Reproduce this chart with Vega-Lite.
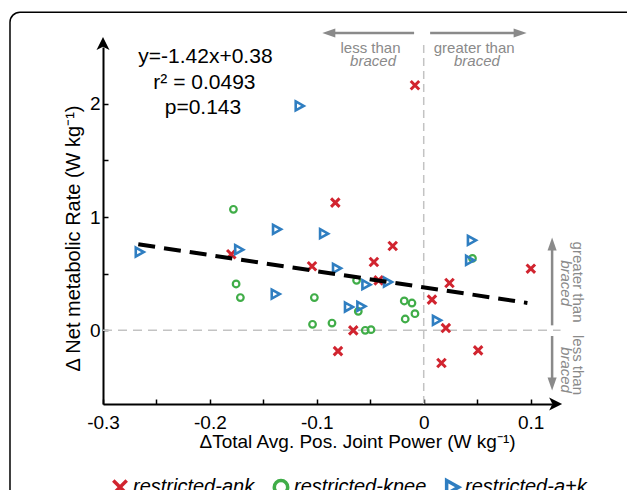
{
  "$schema": "https://vega.github.io/schema/vega-lite/v6.json",
  "width": 449,
  "height": 357,
  "autosize": {"type": "none"},
  "padding": {"left": 103, "top": 47, "right": 75, "bottom": 86},
  "background": "white",
  "config": {"view": {"stroke": null}, "font": "Liberation Sans"},
  "resolve": {"scale": {"shape": "independent", "color": "independent"}},
  "datasets": {
    "frame": [{"x": -0.387, "x2": 0.6, "y": 2.807, "y2": -3}],
    "vzero": [{"x": 0, "y": -0.65, "y2": 2.56}],
    "hzero": [{"x": -0.3, "x2": 0.128, "y": 0}],
    "harrows": [
      {"x": -0.086, "x2": -0.009, "y": 2.624},
      {"x": 0.006, "x2": 0.087, "y": 2.624}
    ],
    "varrows": [
      {"x": 0.1201, "y": 0.044, "y2": 0.75},
      {"x": 0.1201, "y": -0.05, "y2": -0.465}
    ],
    "heads": [
      {"x": -0.0888, "y": 2.624, "dir": "left"},
      {"x": 0.0902, "y": 2.624, "dir": "right"},
      {"x": 0.1201, "y": 0.762, "dir": "up"},
      {"x": 0.1201, "y": -0.474, "dir": "down"}
    ],
    "axisheads": [
      {"x": 0.1234, "y": -0.65, "dir": "right"},
      {"x": -0.3, "y": 2.531, "dir": "up"}
    ],
    "fit": [{"x": -0.267, "y": 0.759}, {"x": 0.097, "y": 0.242}],
    "stats": [
      {"x": -0.2042, "y": 2.415, "text": "y=-1.42x+0.38"},
      {"x": -0.2051, "y": 2.183, "text": "r² = 0.0493"},
      {"x": -0.2065, "y": 1.962, "text": "p=0.143"}
    ],
    "graynormal": [
      {"x": -0.0498, "y": 2.489, "text": "less than"},
      {"x": 0.0472, "y": 2.489, "text": "greater than"}
    ],
    "grayitalic": [
      {"x": -0.0474, "y": 2.38, "text": "braced"},
      {"x": 0.0498, "y": 2.38, "text": "braced"}
    ],
    "rotnormal": [
      {"x": 0.1444, "y": 0.426, "text": "greater than"},
      {"x": 0.1444, "y": -0.306, "text": "less than"}
    ],
    "rotitalic": [
      {"x": 0.1332, "y": 0.417, "text": "braced"},
      {"x": 0.1332, "y": -0.35, "text": "braced"}
    ],
    "points": [
      {"group": "restricted-ank", "x": -0.180, "y": 0.671},
      {"group": "restricted-ank", "x": -0.1045, "y": 0.565},
      {"group": "restricted-ank", "x": -0.0827, "y": 1.127},
      {"group": "restricted-ank", "x": -0.029, "y": 0.744},
      {"group": "restricted-ank", "x": -0.0466, "y": 0.603},
      {"group": "restricted-ank", "x": 0.1002, "y": 0.544},
      {"group": "restricted-ank", "x": -0.0422, "y": 0.441},
      {"group": "restricted-ank", "x": 0.0241, "y": 0.418},
      {"group": "restricted-ank", "x": 0.0077, "y": 0.271},
      {"group": "restricted-ank", "x": -0.0659, "y": 0.0},
      {"group": "restricted-ank", "x": 0.0207, "y": 0.02},
      {"group": "restricted-ank", "x": -0.0802, "y": -0.183},
      {"group": "restricted-ank", "x": 0.0509, "y": -0.177},
      {"group": "restricted-ank", "x": 0.0166, "y": -0.288},
      {"group": "restricted-ank", "x": -0.0082, "y": 2.162},
      {"group": "restricted-knee", "x": -0.178, "y": 1.068},
      {"group": "restricted-knee", "x": -0.1755, "y": 0.409},
      {"group": "restricted-knee", "x": -0.1715, "y": 0.289},
      {"group": "restricted-knee", "x": -0.1023, "y": 0.289},
      {"group": "restricted-knee", "x": -0.104, "y": 0.053},
      {"group": "restricted-knee", "x": 0.0456, "y": 0.635},
      {"group": "restricted-knee", "x": -0.0628, "y": 0.441},
      {"group": "restricted-knee", "x": -0.0612, "y": 0.168},
      {"group": "restricted-knee", "x": -0.0182, "y": 0.259},
      {"group": "restricted-knee", "x": -0.011, "y": 0.241},
      {"group": "restricted-knee", "x": -0.0082, "y": 0.147},
      {"group": "restricted-knee", "x": -0.0173, "y": 0.1},
      {"group": "restricted-knee", "x": -0.0858, "y": 0.064},
      {"group": "restricted-knee", "x": -0.0547, "y": 0.0},
      {"group": "restricted-knee", "x": -0.0493, "y": 0.006},
      {"group": "restricted-a+k", "x": -0.266, "y": 0.691},
      {"group": "restricted-a+k", "x": -0.173, "y": 0.712},
      {"group": "restricted-a+k", "x": -0.1376, "y": 0.891},
      {"group": "restricted-a+k", "x": -0.1388, "y": 0.32},
      {"group": "restricted-a+k", "x": -0.0936, "y": 0.853},
      {"group": "restricted-a+k", "x": 0.0447, "y": 0.794},
      {"group": "restricted-a+k", "x": -0.0815, "y": 0.547},
      {"group": "restricted-a+k", "x": 0.043, "y": 0.618},
      {"group": "restricted-a+k", "x": -0.054, "y": 0.403},
      {"group": "restricted-a+k", "x": -0.0338, "y": 0.426},
      {"group": "restricted-a+k", "x": -0.0703, "y": 0.206},
      {"group": "restricted-a+k", "x": -0.0587, "y": 0.212},
      {"group": "restricted-a+k", "x": 0.012, "y": 0.088},
      {"group": "restricted-a+k", "x": -0.1164, "y": 1.98}
    ]
  },
  "encoding": {
    "x": {
      "field": "x", "type": "quantitative",
      "scale": {"domain": [-0.3, 0.12], "nice": false, "zero": false},
      "axis": {
        "title": "ΔTotal Avg. Pos. Joint Power (W kg⁻¹)",
        "values": [-0.3, -0.25, -0.2, -0.15, -0.1, -0.05, 0, 0.05, 0.1],
        "labelExpr": "round(datum.value*100) % 10 == 0 ? (datum.value < -0.001 ? '-' + format(abs(datum.value), '.1f') : (abs(datum.value) < 0.001 ? '0' : format(datum.value, '.1f'))) : ''",
        "grid": false, "domainColor": "black", "domainWidth": 2,
        "tickColor": "black", "tickWidth": 1.5, "tickSize": -5,
        "labelFontSize": 19, "labelColor": "black", "labelPadding": 14,
        "labelFlush": false, "labelOverlap": false, "labelFont": "Liberation Sans",
        "titleFont": "Liberation Sans", "titleFontSize": 19, "titleFontWeight": "normal", "titleColor": "black",
        "titleX": 254, "titleY": 37, "titleAlign": "center", "titleBaseline": "middle"
      }
    },
    "y": {
      "field": "y", "type": "quantitative",
      "scale": {"domain": [-0.65, 2.5], "nice": false, "zero": false},
      "axis": {
        "title": "Δ Net metabolic Rate (W kg⁻¹)",
        "values": [0, 0.5, 1, 1.5, 2],
        "labelExpr": "datum.value % 1 == 0 ? format(datum.value, 'd') : ''",
        "grid": false, "domainColor": "black", "domainWidth": 2,
        "tickColor": "black", "tickWidth": 1.5, "tickSize": -5,
        "labelFontSize": 19, "labelColor": "black", "labelPadding": 8,
        "labelFlush": false, "labelOverlap": false, "labelFont": "Liberation Sans",
        "titleFont": "Liberation Sans", "titleFontSize": 20, "titleFontWeight": "normal", "titleColor": "black",
        "titleX": -30, "titleY": 191, "titleAlign": "center", "titleBaseline": "middle", "titleAngle": -90
      }
    }
  },
  "layer": [
    {
      "data": {"name": "frame"},
      "mark": {"type": "rect", "fill": null, "fillOpacity": 0, "stroke": "black", "strokeWidth": 1.5, "cornerRadius": 10},
      "encoding": {"x2": {"field": "x2"}, "y2": {"field": "y2"}}
    },
    {
      "data": {"name": "vzero"},
      "mark": {"type": "rule", "color": "#c3c3c3", "strokeWidth": 1.5, "strokeDash": [8, 5]},
      "encoding": {"y2": {"field": "y2"}}
    },
    {
      "data": {"name": "hzero"},
      "mark": {"type": "rule", "color": "#c3c3c3", "strokeWidth": 1.5, "strokeDash": [9, 6]},
      "encoding": {"x2": {"field": "x2"}}
    },
    {
      "data": {"name": "harrows"},
      "mark": {"type": "rule", "color": "#8a8a8a", "strokeWidth": 2.5},
      "encoding": {"x2": {"field": "x2"}}
    },
    {
      "data": {"name": "varrows"},
      "mark": {"type": "rule", "color": "#8a8a8a", "strokeWidth": 2.5},
      "encoding": {"y2": {"field": "y2"}}
    },
    {
      "data": {"name": "heads"},
      "mark": {"type": "point", "filled": true, "opacity": 1, "color": "#8a8a8a", "size": 169},
      "encoding": {
        "shape": {"field": "dir", "type": "nominal", "legend": null,
          "scale": {"domain": ["left", "right", "up", "down"],
            "range": ["M-1,0L1,-0.7L1,0.7Z", "M1,0L-1,-0.7L-1,0.7Z", "M0,-1L0.7,1L-0.7,1Z", "M0,1L0.7,-1L-0.7,-1Z"]}}
      }
    },
    {
      "data": {"name": "axisheads"},
      "mark": {"type": "point", "filled": true, "opacity": 1, "color": "black", "size": 169},
      "encoding": {
        "shape": {"field": "dir", "type": "nominal", "legend": null,
          "scale": {"domain": ["right", "up"],
            "range": ["M1,0L-1,-1L-0.5,0L-1,1Z", "M0,-1L-1,1L0,0.5L1,1Z"]}}
      }
    },
    {
      "data": {"name": "points"},
      "encoding": {
        "color": {"field": "group", "type": "nominal",
          "scale": {"domain": ["restricted-ank", "restricted-knee", "restricted-a+k"], "range": ["#d1242f", "#40ad48", "#2f7ec1"]},
          "legend": {"title": null, "orient": "none", "legendX": 7, "legendY": 430, "direction": "horizontal",
            "labelFontSize": 20, "labelFontStyle": "italic", "labelFont": "Liberation Sans", "labelColor": "black",
            "symbolSize": 180, "symbolStrokeWidth": 3.5, "columnPadding": 12, "labelOffset": 3}},
        "shape": {"field": "group", "type": "nominal",
          "scale": {"domain": ["restricted-ank", "restricted-knee", "restricted-a+k"], "range": ["M-1,-1L1,1M-1,1L1,-1", "circle", "M-0.8,-1L1,0L-0.8,1Z"]},
          "legend": {"title": null, "orient": "none", "legendX": 7, "legendY": 430, "direction": "horizontal",
            "labelFontSize": 20, "labelFontStyle": "italic", "labelFont": "Liberation Sans", "labelColor": "black",
            "symbolSize": 180, "symbolStrokeWidth": 3.5, "columnPadding": 12, "labelOffset": 3}}
      },
      "layer": [
        {
          "transform": [{"filter": "datum.group == 'restricted-ank'"}],
          "mark": {"type": "point", "filled": false, "opacity": 1, "size": 72, "strokeWidth": 3}
        },
        {
          "transform": [{"filter": "datum.group == 'restricted-knee'"}],
          "mark": {"type": "point", "filled": false, "opacity": 1, "size": 44, "strokeWidth": 2.2}
        },
        {
          "transform": [{"filter": "datum.group == 'restricted-a+k'"}],
          "mark": {"type": "point", "filled": false, "opacity": 1, "size": 80, "strokeWidth": 2.6}
        }
      ]
    },
    {
      "data": {"name": "fit"},
      "mark": {"type": "line", "color": "black", "strokeWidth": 4, "strokeDash": [17, 9]},
      "encoding": {}
    },
    {
      "data": {"name": "stats"},
      "mark": {"type": "text", "fontSize": 21, "font": "Liberation Sans", "color": "black", "align": "center", "baseline": "middle"},
      "encoding": {"text": {"field": "text"}}
    },
    {
      "data": {"name": "graynormal"},
      "mark": {"type": "text", "fontSize": 15, "font": "Liberation Sans", "color": "#8a8a8a", "align": "center", "baseline": "middle"},
      "encoding": {"text": {"field": "text"}}
    },
    {
      "data": {"name": "grayitalic"},
      "mark": {"type": "text", "fontSize": 15, "font": "Liberation Sans", "fontStyle": "italic", "color": "#8a8a8a", "align": "center", "baseline": "middle"},
      "encoding": {"text": {"field": "text"}}
    },
    {
      "data": {"name": "rotnormal"},
      "mark": {"type": "text", "fontSize": 15, "font": "Liberation Sans", "color": "#8a8a8a", "align": "center", "baseline": "middle", "angle": 90},
      "encoding": {"text": {"field": "text"}}
    },
    {
      "data": {"name": "rotitalic"},
      "mark": {"type": "text", "fontSize": 15, "font": "Liberation Sans", "fontStyle": "italic", "color": "#8a8a8a", "align": "center", "baseline": "middle", "angle": 90},
      "encoding": {"text": {"field": "text"}}
    }
  ]
}
